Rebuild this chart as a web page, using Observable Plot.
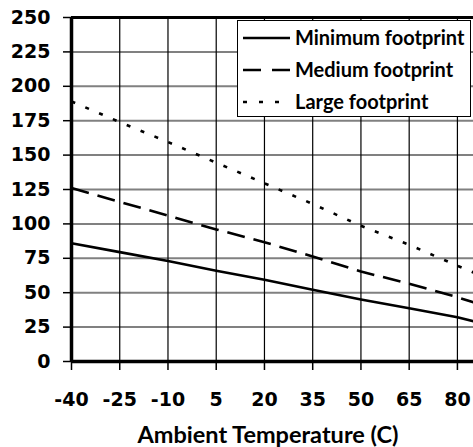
<!DOCTYPE html>
<html>
<head>
<meta charset="utf-8">
<script src="https://cdn.jsdelivr.net/npm/d3@7"></script>
<script src="https://cdn.jsdelivr.net/npm/@observablehq/plot@0.6"></script>
<style>
  html, body { margin: 0; padding: 0; background: #fff; }
  #chart { position: relative; width: 473px; height: 447px; overflow: hidden; }
</style>
</head>
<body>
<div id="chart"></div>
<script>
// Data
const temps = [-40, -25, -10, 5, 20, 35, 50, 65, 80, 85];
const minimumFootprint = [86, 79.5, 73, 66, 59.4, 52.1, 45, 38.7, 32.2, 29.3];
const mediumFootprint  = [126, 116, 106, 96, 86.7, 76.3, 65.4, 56.5, 46.7, 43];
const largeFootprint   = [189, 174, 159.5, 144.5, 129.5, 114.5, 98.6, 84.8, 69.6, 64.7];
const seriesNames = ["Minimum footprint", "Medium footprint", "Large footprint"];
const xTicks = [-40, -25, -10, 5, 20, 35, 50, 65, 80];
const yTicks = [0, 25, 50, 75, 100, 125, 150, 175, 200, 225, 250];
const xTitle = "Ambient Temperature (C)";

const dashes = ["none", "18,9", "4,11"];
const allSeries = [minimumFootprint, mediumFootprint, largeFootprint];
const rows = [];
allSeries.forEach((vals, si) => vals.forEach((v, i) => rows.push({series: seriesNames[si], t: temps[i], v})));

const tickFont = "DejaVu Sans, sans-serif";

const plot = Plot.plot({
  width: 473,
  height: 447,
  marginLeft: 71,
  marginRight: 0,
  marginTop: 17,
  marginBottom: 86,
  style: {background: "#fff", overflow: "visible"},
  x: {domain: [-40, 85]},
  y: {domain: [0, 250]},
  marks: [
    Plot.ruleY(yTicks.slice(1, -1), {stroke: "#808080", strokeWidth: 2, strokeOpacity: 1}),
    Plot.ruleX(xTicks.slice(1), {stroke: "#000", strokeWidth: 1.2}),
    ...seriesNames.map((name, si) =>
      Plot.line(rows.filter(d => d.series === name), {
        x: "t", y: "v", stroke: "#000", strokeWidth: 2.6,
        strokeDasharray: dashes[si] === "none" ? undefined : dashes[si],
        strokeLinecap: "butt"
      })
    ),
    Plot.ruleX([-40], {stroke: "#000", strokeWidth: 3.5}),
    Plot.ruleY([0], {stroke: "#000", strokeWidth: 3.5}),
    Plot.ruleY([250], {stroke: "#000", strokeWidth: 3}),
    Plot.axisY(yTicks, {
      tickSize: 8, tickPadding: 13, fontSize: 19, fontWeight: "bold",
      fontFamily: tickFont, fill: "#000", stroke: "#000", strokeWidth: 1.5, label: null,
      tickFormat: d => String(d)
    }),
    Plot.axisX(xTicks, {
      tickSize: 9, tickPadding: 22, fontSize: 19, fontWeight: "bold",
      fontFamily: tickFont, fill: "#000", stroke: "#000", strokeWidth: 1.5, label: null,
      tickFormat: d => String(d)
    })
  ]
});

document.getElementById("chart").appendChild(plot);

const svg = d3.select(plot);
svg.append("text")
  .attr("x", 268).attr("y", 443)
  .attr("text-anchor", "middle")
  .attr("font-family", "Lato, sans-serif")
  .attr("font-weight", "bold")
  .attr("font-size", 23.5)
  .attr("fill", "#000")
  .text(xTitle);

// Legend box
const lg = svg.append("g").attr("text-anchor", "start");
lg.append("rect")
  .attr("x", 237.5).attr("y", 20.5).attr("width", 233).attr("height", 96)
  .attr("fill", "#fff").attr("stroke", "#000").attr("stroke-width", 1);
seriesNames.forEach((name, i) => {
  const yy = 38 + i * 32;
  lg.append("line")
    .attr("x1", 243).attr("x2", 290).attr("y1", yy).attr("y2", yy)
    .attr("stroke", "#000").attr("stroke-width", 2.6)
    .attr("stroke-dasharray", i === 0 ? null : (i === 1 ? "18,11" : "4,12"));
  lg.append("text")
    .attr("x", 295).attr("y", yy + 7)
    .attr("text-anchor", "start")
    .attr("font-family", "Lato, sans-serif")
    .attr("font-weight", "bold")
    .attr("font-size", 20)
    .attr("fill", "#000")
    .text(name);
});
</script>
</body>
</html>
